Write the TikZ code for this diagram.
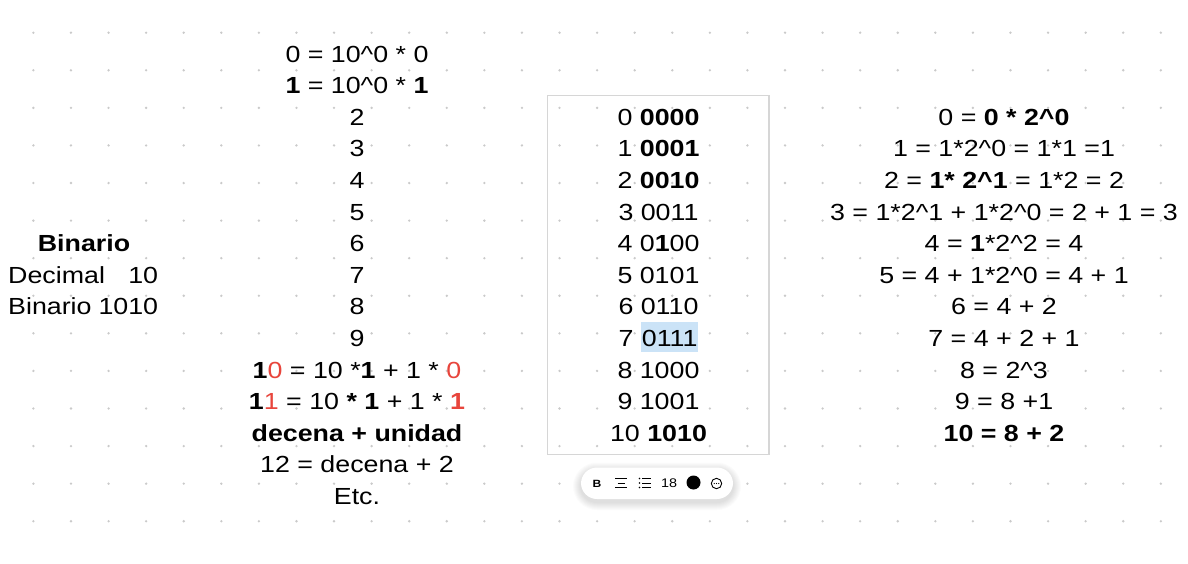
\documentclass[tikz,border=0pt]{standalone}
\usepackage{fontspec}
\setmainfont{Liberation Sans}[FakeStretch=1.15]
\definecolor{ired}{HTML}{E8453C}
\definecolor{dotc}{HTML}{CACACA}
\definecolor{boxc}{HTML}{D6D6D6}
\definecolor{hlc}{HTML}{CBE3F7}
\newcommand{\fsz}{\fontsize{23.3}{27}\selectfont}
\newcommand{\hlbox}[1]{{\setlength{\fboxsep}{0pt}\colorbox{hlc}{\rule[-5.6pt]{0pt}{30pt}\kern1pt#1\kern1pt}}}
\newcommand{\crt}{\textasciicircum}
\begin{document}
\begin{tikzpicture}[x=1pt,y=-1pt,
  txt/.style={anchor=base, font=\fsz, inner sep=0pt},
  txtl/.style={anchor=base west, font=\fsz, inner sep=0pt}]
\useasboundingbox (0,0) rectangle (1188,563);
\fill[white] (0,0) rectangle (1188,563);
% dot grid
\foreach \i in {0,...,30}{
  \foreach \j in {0,...,13}{
    \fill[dotc] ({33.4+37.58*\i},{32.7+37.58*\j}) circle (1.3pt);
  }
}
% central box
\draw[boxc, line width=1.2pt] (547.5,95.5) rectangle (769,454.5);
% left-most labels
\node[txt] (bin) at (84,251.6) {\textbf{Binario}};
\node[txtl] (dec) at (8,283.2) {\makebox[150pt][s]{Decimal\hfill 10}};
\node[txtl] (binn) at (8,314.8) {\makebox[150pt][s]{Binario\hfill 1010}};
% left column
\node[txt] (l0) at (357,62) {0 = 10\crt0 * 0};
\node[txt] (l1) at (357,93.6) {\textbf{1} = 10\crt0 * \textbf{1}};
\node[txt] (l2) at (357,125.2) {2};
\node[txt] (l3) at (357,156.8) {3};
\node[txt] (l4) at (357,188.4) {4};
\node[txt] (l5) at (357,220) {5};
\node[txt] (l6) at (357,251.6) {6};
\node[txt] (l7) at (357,283.2) {7};
\node[txt] (l8) at (357,314.8) {8};
\node[txt] (l9) at (357,346.4) {9};
\node[txt] (l10) at (357,378) {\textbf{1}\textcolor{ired}{0} = 10 *\textbf{1} + 1 * \textcolor{ired}{0}};
\node[txt] (l11) at (357,409.6) {\textbf{1}\textcolor{ired}{1} = 10 \textbf{* 1} + 1 * \textcolor{ired}{\textbf{1}}};
\node[txt] (l12) at (357,441.2) {\textbf{decena + unidad}};
\node[txt] (l13) at (357,472.8) {12 = decena + 2};
\node[txt] (l14) at (357,504.4) {Etc.};
% center column
\node[txt] (c0) at (658.5,125.2) {0 \textbf{0000}};
\node[txt] (c1) at (658.5,156.8) {1 \textbf{0001}};
\node[txt] (c2) at (658.5,188.4) {2 \textbf{0010}};
\node[txt] (c3) at (658.5,220) {3 0011};
\node[txt] (c4) at (658.5,251.6) {4 0\textbf{1}00};
\node[txt] (c5) at (658.5,283.2) {5 0101};
\node[txt] (c6) at (658.5,314.8) {6 0110};
\node[txt] (c7) at (658.5,346.4) {7 \hlbox{0111}};
\node[txt] (c8) at (658.5,378) {8 1000};
\node[txt] (c9) at (658.5,409.6) {9 1001};
\node[txt] (c10) at (658.5,441.2) {10 \textbf{1010}};
% right column
\node[txt] (r0) at (1004,125.2) {0 = \textbf{0 * 2\crt0}};
\node[txt] (r1) at (1004,156.8) {1 = 1*2\crt0 = 1*1 =1};
\node[txt] (r2) at (1004,188.4) {2 = \textbf{1* 2\crt1} = 1*2 = 2};
\node[txt] (r3) at (1004,220) {3 = 1*2\crt1 + 1*2\crt0 = 2 + 1 = 3};
\node[txt] (r4) at (1004,251.6) {4 = \textbf{1}*2\crt2 = 4};
\node[txt] (r5) at (1004,283.2) {5 = 4 + 1*2\crt0 = 4 + 1};
\node[txt] (r6) at (1004,314.8) {6 = 4 + 2};
\node[txt] (r7) at (1004,346.4) {7 = 4 + 2 + 1};
\node[txt] (r8) at (1004,378) {8 = 2\crt3};
\node[txt] (r9) at (1004,409.6) {9 = 8 +1};
\node[txt] (r10) at (1004,441.2) {\textbf{10 = 8 + 2}};
% toolbar
\foreach \k in {1,...,8}{
  \pgfmathsetmacro{\rr}{16+\k}
  \fill[black,opacity=0.016,rounded corners=\rr pt] ({581-\k},{467.5-\k+3}) rectangle ({733+\k},{499+\k+3});
}
\fill[white,rounded corners=16pt] (581,467.5) rectangle (733,499);
\node[inner sep=0pt, font=\bfseries\fontsize{10.5}{10.5}\selectfont] (tbB) at (597,483.5) {B};
\draw[line width=1pt] (615,478.5) -- (627,478.5) (617.5,483) -- (624.5,483) (615,487.5) -- (627,487.5);
\foreach \yy in {478.5,483,487.5}{
  \fill (639.5,\yy) circle (0.8pt);
  \draw[line width=1pt] (642,\yy) -- (651,\yy);
}
\node[inner sep=0pt, font=\fontsize{12.5}{12.5}\selectfont] (tb18) at (669,483) {18};
\fill (693.5,482.5) circle (7pt);
\draw[line width=0.9pt] (716.5,483.5) circle (5.2pt);
\foreach \xx in {714.2,716.5,718.8} \fill (\xx,483.5) circle (0.65pt);
\end{tikzpicture}
\end{document}
